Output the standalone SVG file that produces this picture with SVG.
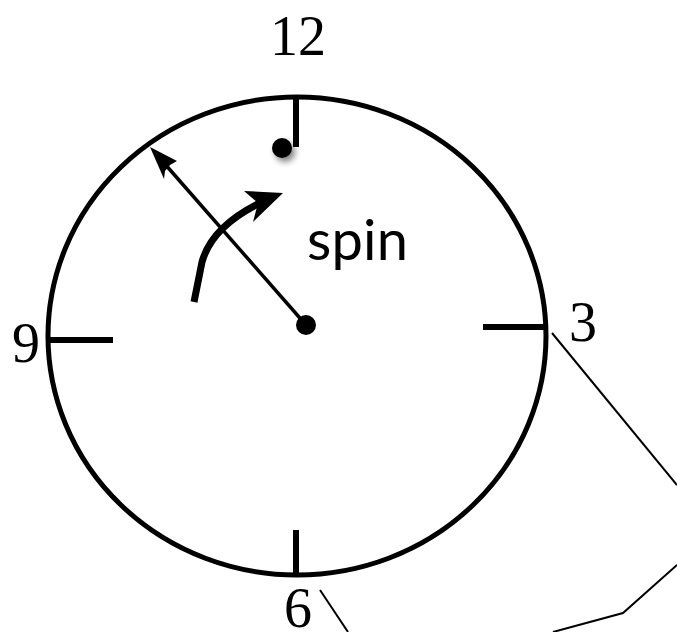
<svg xmlns="http://www.w3.org/2000/svg" width="677" height="632" viewBox="0 0 677 632">
<style>
.tick{stroke:#000;stroke-width:6;fill:none}
.num{font-family:"Liberation Serif","DejaVu Serif",serif;font-size:56px;fill:#000}
.thin{stroke:#000;stroke-width:2;fill:none}
</style>
<defs>
<filter id="sh" x="-1" y="-1" width="3" height="3"><feGaussianBlur in="SourceAlpha" stdDeviation="3"/><feOffset dx="3" dy="4"/><feComponentTransfer><feFuncA type="linear" slope="0.5"/></feComponentTransfer><feMerge><feMergeNode/><feMergeNode in="SourceGraphic"/></feMerge></filter>
</defs>
<rect width="677" height="632" fill="#fff"/>
<g id="clock">
<ellipse cx="297" cy="336" rx="249" ry="239" fill="none" stroke="#000" stroke-width="5"/>
<line class="tick" x1="296" y1="97" x2="296" y2="147"/>
<line class="tick" x1="483" y1="327" x2="546" y2="327"/>
<line class="tick" x1="48" y1="340" x2="113" y2="340"/>
<line class="tick" x1="296" y1="530" x2="296" y2="576"/>
</g>
<g id="labels">
<text class="num" x="298" y="55" text-anchor="middle">12</text>
<text class="num" x="569" y="341">3</text>
<text class="num" x="12" y="362">9</text>
<text class="num" x="284" y="627">6</text>
<text x="307" y="260" font-family="Lato,'Open Sans',sans-serif" font-size="56" fill="#000" textLength="101">spin</text>
</g>
<g id="dots">
<circle cx="282" cy="148" r="10" fill="#000" filter="url(#sh)"/>
<circle cx="306" cy="325" r="10" fill="#000"/>
</g>
<g id="connectors">
<line x1="306" y1="325" x2="164" y2="163" stroke="#000" stroke-width="3.5"/>
<polygon points="150,147 177,161 170,165 165,171 164,179" fill="#000"/>
<path d="M194,302 L202,262 Q212,226 262,202" fill="none" stroke="#000" stroke-width="7"/>
<polygon points="283,193 244,191 258,203 253,222" fill="#000"/>
<line class="thin" x1="552" y1="333" x2="677" y2="485"/>
<polyline class="thin" points="677,565 623,613 553,632"/>
<line class="thin" x1="320" y1="590" x2="348" y2="632"/>
</g>
</svg>
